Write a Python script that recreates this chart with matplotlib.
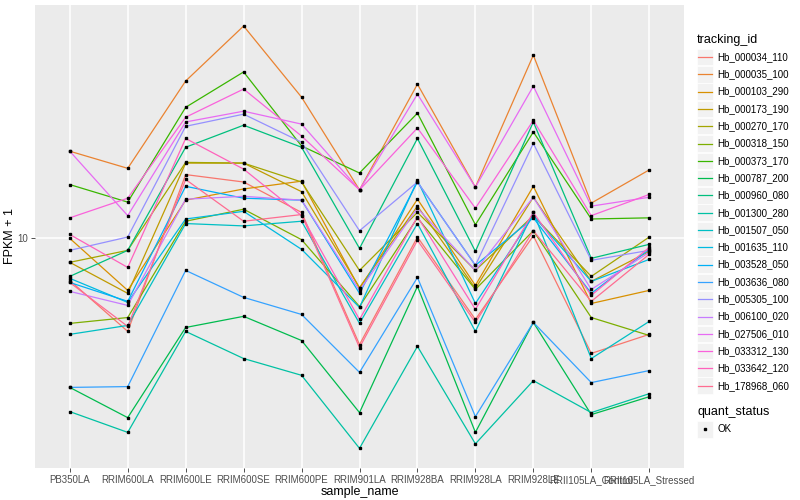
import matplotlib
matplotlib.use('Agg')
import matplotlib.pyplot as plt
from matplotlib.patches import Rectangle
from matplotlib.lines import Line2D

plt.rcParams['font.family'] = ['Liberation Sans', 'DejaVu Sans']

# Dados
samples = ['PB350LA', 'RRIM600LA', 'RRIM600LE', 'RRIM600SE', 'RRIM600PE', 'RRIM901LA',
           'RRIM928BA', 'RRIM928LA', 'RRIM928LE', 'RRII105LA_Control', 'RRII105LA_Stressed']

tracking_ids = ['Hb_000034_110', 'Hb_000035_100', 'Hb_000103_290', 'Hb_000173_190',
                'Hb_000270_170', 'Hb_000318_150', 'Hb_000373_170', 'Hb_000787_200',
                'Hb_000960_080', 'Hb_001300_280', 'Hb_001507_050', 'Hb_001635_110',
                'Hb_003528_050', 'Hb_003636_080', 'Hb_005305_100', 'Hb_006100_020',
                'Hb_027506_010', 'Hb_033312_130', 'Hb_033642_120', 'Hb_178968_060']

cores = ['#F8766D', '#EA8331', '#D89000', '#C09B00', '#A3A500', '#7CAE00', '#39B600',
         '#00BB4E', '#00BF7D', '#00C1A3', '#00BFC4', '#00BAE0', '#00B0F6', '#35A2FF',
         '#9590FF', '#C77CFF', '#E76BF3', '#FA62DB', '#FF62BC', '#FF6C91']

# FPKM + 1 por gene (mesma ordem das amostras)
hb_000034_110 = [7.24, 4.90, 16.3, 15.4, 12.2, 4.43, 10.1, 5.37, 10.2, 4.14, 4.79]
hb_000035_100 = [19.5, 17.1, 33.4, 50.9, 29.5, 14.5, 32.6, 14.8, 40.7, 13.1, 16.9]
hb_000103_290 = [10.0, 6.71, 13.4, 14.6, 15.5, 6.81, 13.5, 6.97, 14.9, 6.07, 6.71]
hb_000173_190 = [8.32, 6.56, 17.8, 17.8, 14.3, 6.86, 12.8, 6.81, 13.7, 7.19, 9.05]
hb_000270_170 = [8.32, 9.12, 17.9, 17.8, 15.4, 7.82, 12.2, 7.82, 11.9, 7.47, 10.1]
hb_000318_150 = [5.21, 5.45, 11.4, 12.5, 9.9, 5.93, 11.7, 6.76, 10.6, 5.45, 4.75]
hb_000373_170 = [15.1, 13.2, 27.3, 35.8, 20.3, 16.5, 26.1, 11.1, 22.6, 11.6, 11.7]
hb_000787_200 = [3.19, 2.53, 5.05, 5.50, 4.57, 2.63, 6.92, 2.26, 5.25, 2.59, 2.97]
hb_000960_080 = [7.47, 9.12, 20.1, 23.8, 20.1, 9.26, 21.5, 9.05, 24.4, 8.58, 9.55]
hb_001300_280 = [2.65, 2.26, 4.90, 3.98, 3.50, 2.00, 4.37, 2.07, 3.36, 2.63, 3.04]
hb_001507_050 = [4.79, 5.13, 11.2, 11.0, 11.4, 5.21, 11.2, 4.90, 12.2, 3.98, 5.29]
hb_001635_110 = [7.36, 6.12, 11.6, 12.3, 9.19, 5.89, 15.6, 6.07, 11.9, 7.19, 8.51]
hb_003528_050 = [7.13, 6.17, 14.9, 13.6, 13.4, 6.56, 15.4, 8.13, 11.7, 6.56, 9.19]
hb_003636_080 = [3.19, 3.21, 7.82, 6.36, 5.58, 3.58, 7.41, 2.55, 5.25, 3.31, 3.63]
hb_005305_100 = [9.12, 10.1, 23.6, 25.9, 20.9, 10.6, 15.4, 8.13, 20.7, 8.45, 9.12]
hb_006100_020 = [6.66, 5.98, 13.5, 13.8, 13.4, 6.71, 12.6, 7.82, 13.7, 6.76, 8.98]
hb_027506_010 = [19.5, 11.9, 24.4, 26.5, 24.0, 14.5, 30.2, 14.8, 32.1, 12.8, 13.7]
hb_033312_130 = [11.7, 13.6, 25.3, 31.4, 21.9, 14.5, 23.3, 12.6, 24.7, 11.9, 14.0]
hb_033642_120 = [10.3, 8.00, 21.5, 17.0, 11.9, 5.37, 11.8, 5.80, 12.2, 6.46, 9.33]
hb_178968_060 = [7.13, 5.09, 15.7, 11.4, 12.0, 4.33, 9.85, 5.25, 10.6, 6.17, 8.85]

series = [hb_000034_110, hb_000035_100, hb_000103_290, hb_000173_190, hb_000270_170,
          hb_000318_150, hb_000373_170, hb_000787_200, hb_000960_080, hb_001300_280,
          hb_001507_050, hb_001635_110, hb_003528_050, hb_003636_080, hb_005305_100,
          hb_006100_020, hb_027506_010, hb_033312_130, hb_033642_120, hb_178968_060]

fig = plt.figure(figsize=(8, 5), dpi=100)
ax = fig.add_axes([35 / 800, 1 - 468 / 500, (684 - 35) / 800, (468 - 5) / 500])
ax.set_facecolor('#EBEBEB')

x = list(range(len(samples)))

# linhas e pontos
for valores, cor in zip(series, cores):
    ax.plot(x, valores, color=cor, lw=0.9, zorder=3)
for valores in series:
    ax.plot(x, valores, 's', color='black', ms=2.1, zorder=4)

ax.set_yscale('log')
ax.set_ylim(1.72, 59.8)
ax.set_xlim(-0.6, len(samples) - 0.4)

ax.set_xticks(x)
ax.set_xticklabels(samples, fontsize=7, color='#4D4D4D')
ax.set_yticks([10])
ax.set_yticklabels(['10'], fontsize=7, color='#4D4D4D')
ax.minorticks_off()
ax.tick_params(length=3, width=0.6, color='#333333', pad=2)

ax.grid(True, color='white', lw=1.1, zorder=0)
ax.set_axisbelow(True)
for s in ax.spines.values():
    s.set_visible(False)

ax.set_xlabel('sample_name', fontsize=9, labelpad=1)
ax.set_ylabel('FPKM + 1', fontsize=9, labelpad=1)

# Legenda desenhada a mao
lg = fig.add_axes([0, 0, 1, 1])
lg.set_xlim(0, 800)
lg.set_ylim(500, 0)
lg.axis('off')
lg.patch.set_alpha(0)

lg.text(697, 40, 'tracking_id', fontsize=9, va='center', ha='left')
for i, (nome, cor) in enumerate(zip(tracking_ids, cores)):
    yc = 57 + i * 17.3
    lg.add_patch(Rectangle((697, yc - 8.3), 16, 16.6, facecolor='#F2F2F2', edgecolor='white', lw=0.5))
    lg.add_line(Line2D([698, 712], [yc, yc], color=cor, lw=0.9))
    lg.text(717, yc, nome, fontsize=7, va='center', ha='left')

lg.text(697, 412, 'quant_status', fontsize=9, va='center', ha='left')
lg.add_patch(Rectangle((697, 421), 16, 16.6, facecolor='#F2F2F2', edgecolor='white', lw=0.5))
lg.plot([705], [429.3], 's', color='black', ms=2.1)
lg.text(717, 429.3, 'OK', fontsize=7, va='center', ha='left')

plt.savefig('out.png', dpi=100)
